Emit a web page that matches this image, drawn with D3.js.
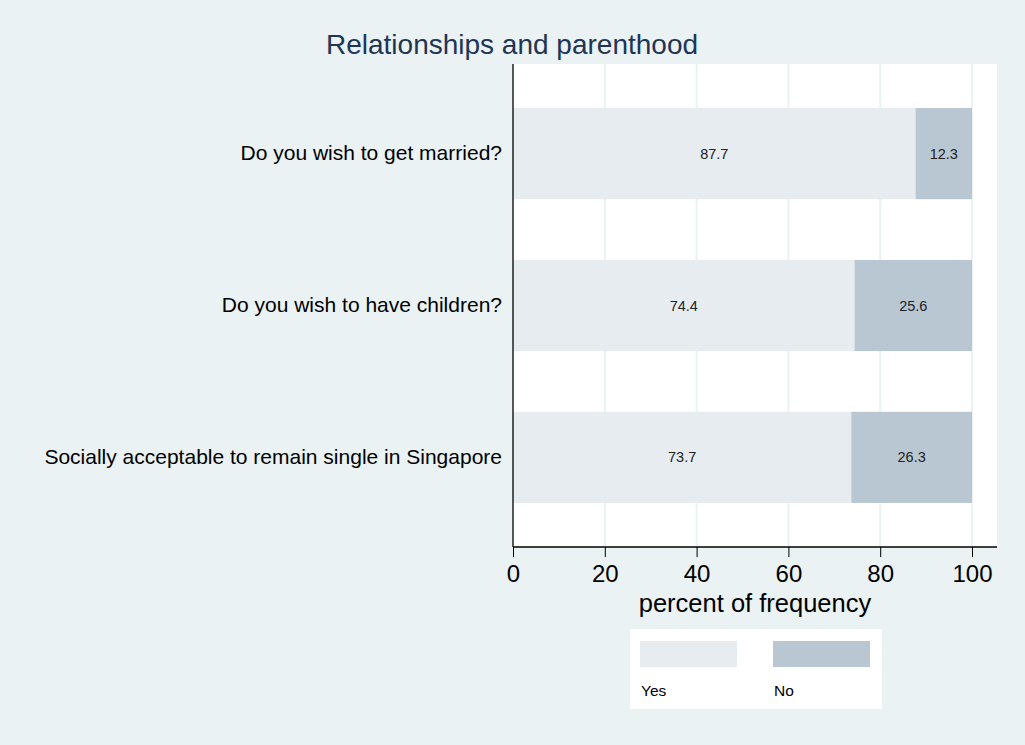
<!DOCTYPE html>
<html>
<head>
<meta charset="utf-8">
<script src="https://cdn.jsdelivr.net/npm/d3@7"></script>
<style>
  body { margin: 0; background: #eaf2f3; }
  svg { display: block; font-family: Arial, "Liberation Sans", sans-serif; }
</style>
</head>
<body>
<svg width="1025" height="745"></svg>
<script>
const questions = [
  "Do you wish to get married?",
  "Do you wish to have children?",
  "Socially acceptable to remain single in Singapore"
]
const yesValues = [87.7, 74.4, 73.7]
const noValues = [12.3, 25.6, 26.3]
const xTicks = [0, 20, 40, 60, 80, 100]
const seriesNames = ["Yes", "No"]

const svg = d3.select('svg')
const width = +svg.attr('width')
const height = +svg.attr('height')

const colors = { Yes: '#e6ecf0', No: '#b9c7d2' }

const data = questions.map((q, i) => ({ q, Yes: yesValues[i], No: noValues[i] }))
const stacked = d3.stack().keys(seriesNames)(data)

const plot = { left: 513, right: 997, top: 64, bottom: 547 }

const xScale = d3.scaleLinear()
  .domain([0, 100])
  .range([plot.left, 972])

const yScale = d3.scaleBand()
  .domain(questions)
  .range([plot.top, plot.bottom])
  .paddingInner(0.4)
  .paddingOuter(0.29)

// plot area
svg.append('rect')
  .attr('x', plot.left).attr('y', plot.top)
  .attr('width', plot.right - plot.left).attr('height', plot.bottom - plot.top)
  .attr('fill', '#ffffff')

// grid
svg.append('g').selectAll('line')
  .data(xTicks.slice(1))
  .enter().append('line')
  .attr('x1', d => xScale(d)).attr('x2', d => xScale(d))
  .attr('y1', plot.top).attr('y2', plot.bottom)
  .attr('stroke', '#eaf2f3')
  .attr('stroke-width', 2)

// bars
svg.append('g').selectAll('g')
  .data(stacked)
  .enter().append('g')
  .attr('fill', d => colors[d.key])
  .selectAll('rect')
  .data(d => d)
  .enter().append('rect')
  .attr('x', d => xScale(d[0]))
  .attr('width', d => xScale(d[1]) - xScale(d[0]))
  .attr('y', d => yScale(d.data.q))
  .attr('height', yScale.bandwidth())

// value labels
svg.append('g').selectAll('g')
  .data(stacked)
  .enter().append('g')
  .selectAll('text')
  .data(d => d.map(v => ({ v, key: d.key })))
  .enter().append('text')
  .attr('x', d => xScale((d.v[0] + d.v[1]) / 2))
  .attr('y', d => yScale(d.v.data.q) + yScale.bandwidth() / 2)
  .attr('dy', '0.35em')
  .attr('text-anchor', 'middle')
  .attr('font-size', 14.5)
  .attr('fill', '#222')
  .text(d => d.v.data[d.key].toFixed(1))

// x axis
const xAxis = d3.axisBottom(xScale)
  .tickValues(xTicks)
  .tickSize(10)
  .tickPadding(8)

const gx = svg.append('g')
  .attr('transform', `translate(0, ${plot.bottom})`)
  .call(xAxis)
gx.select('.domain').remove()
gx.selectAll('.tick line').attr('stroke', '#000')
gx.selectAll('.tick text').attr('font-size', 24).attr('fill', '#000')
gx.append('line')
  .attr('x1', plot.left).attr('x2', plot.right)
  .attr('stroke', '#000').attr('stroke-width', 1.3)

// y axis
const yAxis = d3.axisLeft(yScale).tickSize(0).tickPadding(11)
const gy = svg.append('g')
  .attr('transform', `translate(${plot.left}, 0)`)
  .call(yAxis)
gy.select('.domain').remove()
gy.selectAll('.tick text').attr('font-size', 21).attr('fill', '#000')
gy.append('line')
  .attr('y1', plot.top).attr('y2', plot.bottom)
  .attr('stroke', '#000').attr('stroke-width', 1.3)

// axis title
svg.append('text')
  .attr('x', (plot.left + plot.right) / 2)
  .attr('y', 612)
  .attr('text-anchor', 'middle')
  .attr('font-size', 25.5)
  .text('percent of frequency')

// title
svg.append('text')
  .attr('x', 512)
  .attr('y', 54)
  .attr('text-anchor', 'middle')
  .attr('font-size', 28)
  .attr('fill', '#1e3556')
  .text('Relationships and parenthood')

// legend
const legend = svg.append('g').attr('transform', 'translate(630, 629)')
legend.append('rect')
  .attr('width', 252).attr('height', 80)
  .attr('fill', '#ffffff')
const items = legend.selectAll('g.item')
  .data(seriesNames)
  .enter().append('g')
  .attr('class', 'item')
  .attr('transform', (d, i) => `translate(${10 + i * 133}, 12)`)
items.append('rect')
  .attr('width', 97).attr('height', 26)
  .attr('fill', d => colors[d])
items.append('text')
  .attr('x', 1).attr('y', 55)
  .attr('font-size', 15.5)
  .text(d => d)
</script>
</body>
</html>
